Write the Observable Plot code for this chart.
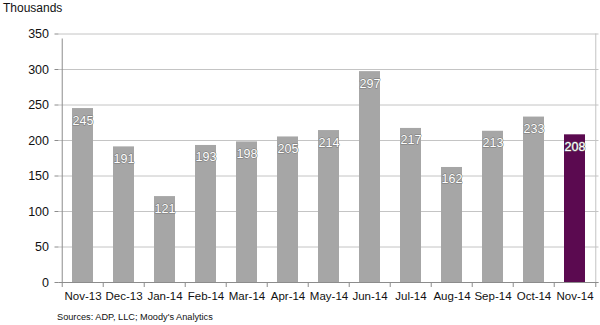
<!DOCTYPE html>
<html>
<head>
<meta charset="utf-8">
<script src="https://cdn.jsdelivr.net/npm/d3@7"></script>
<script src="https://cdn.jsdelivr.net/npm/@observablehq/plot@0.6"></script>
<style>
  body { margin: 0; background: #fff; }
  #wrap { position: relative; width: 600px; height: 325px; font-family: "Liberation Sans", Arial, sans-serif; }
  #title { position: absolute; left: 3px; top: 1px; font-size: 12px; color: #111; }
  #caption { position: absolute; left: 57px; top: 312px; font-size: 9.2px; color: #111; }
</style>
</head>
<body>
<div id="wrap">
  <div id="title">Thousands</div>
  <div id="caption">Sources: ADP, LLC; Moody's Analytics</div>
</div>
<script>
const months = ["Nov-13","Dec-13","Jan-14","Feb-14","Mar-14","Apr-14","May-14","Jun-14","Jul-14","Aug-14","Sep-14","Oct-14","Nov-14"];
const values = [245, 191, 121, 193, 198, 205, 214, 297, 217, 162, 213, 233, 208];
const yTicks = [0, 50, 100, 150, 200, 250, 300, 350];
const highlight = "Nov-14";

const data = months.map((m, i) => ({month: m, value: values[i]}));

const W = 600, H = 325, mL = 58.5, mR = 1.5, mT = 33.5, mB = 43;
const step = (W - mL - mR) / months.length;
const axisColor = "#8c8c8c";
const first = months[0], last = months[months.length - 1];

const chart = Plot.plot({
  width: W,
  height: H,
  marginLeft: mL,
  marginRight: mR,
  marginTop: mT,
  marginBottom: mB,
  style: {fontFamily: "'Liberation Sans', Arial, sans-serif", fontSize: "12px", color: "#111", background: "transparent"},
  x: {domain: months, paddingInner: 0.5, paddingOuter: 0.25, label: null},
  y: {domain: [0, 350], ticks: yTicks, label: null},
  marks: [
    Plot.gridY(yTicks, {stroke: "#c4c4c4", strokeOpacity: 1}),
    Plot.barY(data, {x: "month", y: "value", fill: d => d.month === highlight ? "#5b0a50" : "#a6a6a6"}),
    Plot.ruleX([first], {x: d => d, y1: 0, y2: 350, dx: -step / 2, stroke: axisColor, insetBottom: -5}),
    Plot.ruleX([last], {x: d => d, y1: 0, y2: 350, dx: step / 2, stroke: "#c4c4c4"}),
    Plot.ruleY([0], {stroke: axisColor}),
    Plot.ruleX(months, {x: d => d, y1: 0, y2: 0, dx: -step / 2, insetBottom: -5, stroke: axisColor}),
    Plot.ruleX([last], {x: d => d, y1: 0, y2: 0, dx: step / 2, insetBottom: -5, stroke: axisColor}),
    Plot.axisY(yTicks, {tickSize: 4, tickPadding: 6, stroke: axisColor, fontSize: 12.5, fill: "#111", label: null}),
    Plot.axisX(months, {tickSize: 0, tickPadding: 9, fontSize: 11.5, fill: "#111", label: null}),
    Plot.text(data, {x: "month", y: "value", text: d => String(d.value), dy: 12, fill: "white", stroke: "#777", strokeWidth: 1, fontSize: 12.5})
  ]
});
document.getElementById("wrap").prepend(chart);
chart.style.position = "absolute";
chart.style.left = "0";
chart.style.top = "0";
</script>
</body>
</html>
